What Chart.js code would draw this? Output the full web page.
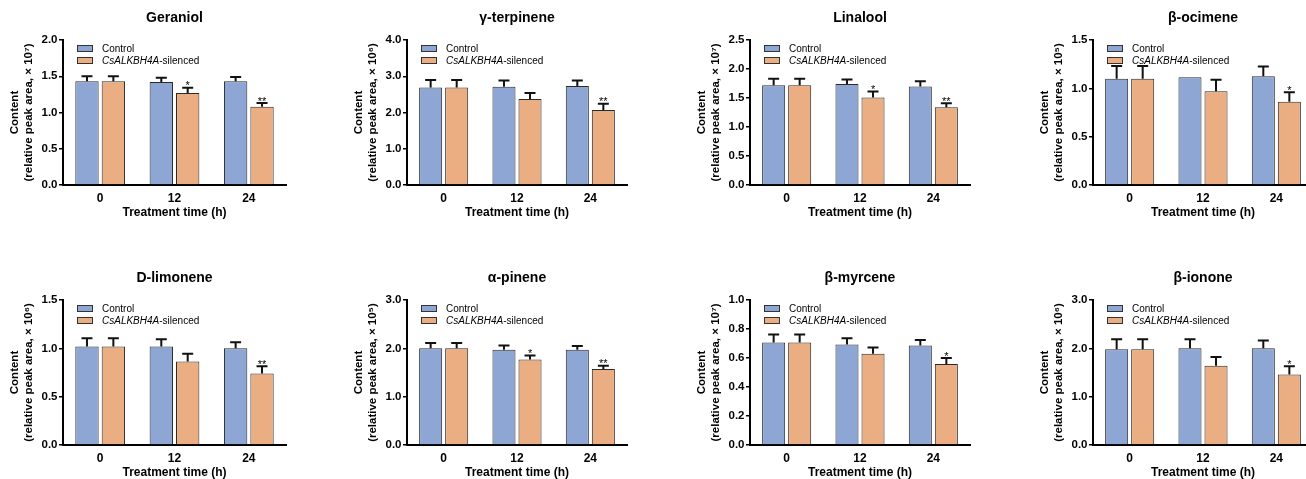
<!DOCTYPE html>
<html><head><meta charset="utf-8">
<script src="https://cdn.jsdelivr.net/npm/chart.js@4.4.1/dist/chart.umd.min.js"></script>
<style>
html,body{margin:0;padding:0;background:#fff;overflow:hidden;width:1306px;height:479px;}
#wrap{position:relative;width:1306px;height:479px;overflow:hidden;background:#fff;}
canvas{position:absolute;}
</style></head><body><div id="wrap"></div>
<script>
// ---- data ----
const categories = ['0', '12', '24'];
const compounds = ['Geraniol', 'γ-terpinene', 'Linalool', 'β-ocimene', 'D-limonene', 'α-pinene', 'β-myrcene', 'β-ionone'];
const exponents = ['⁷', '⁶', '⁷', '⁵', '⁶', '⁵', '⁷', '⁶'];
const yMax = [2.0, 4.0, 2.5, 1.5, 1.5, 3.0, 1.0, 3.0];
const yStep = [0.5, 1.0, 0.5, 0.5, 0.5, 1.0, 0.2, 1.0];
const seriesNames = ['Control', 'CsALKBH4A-silenced'];
const seriesItalicPrefix = ['', 'CsALKBH4A'];
const controlMean = [
  [1.43, 1.42, 1.43], [2.69, 2.71, 2.73], [1.72, 1.74, 1.70], [1.10, 1.115, 1.125],
  [1.02, 1.02, 1.00], [2.00, 1.97, 1.97], [0.707, 0.693, 0.686], [1.98, 2.00, 2.00]
];
const controlErr = [
  [0.07, 0.06, 0.06], [0.21, 0.17, 0.15], [0.11, 0.08, 0.09], [0.13, 0.0, 0.10],
  [0.085, 0.075, 0.064], [0.11, 0.09, 0.08], [0.055, 0.044, 0.039], [0.21, 0.19, 0.16]
];
const silencedMean = [
  [1.43, 1.27, 1.08], [2.69, 2.37, 2.07], [1.72, 1.51, 1.34], [1.10, 0.97, 0.86],
  [1.02, 0.865, 0.74], [2.00, 1.77, 1.57], [0.707, 0.629, 0.558], [1.98, 1.64, 1.46]
];
const silencedErr = [
  [0.07, 0.07, 0.05], [0.21, 0.17, 0.17], [0.11, 0.10, 0.07], [0.13, 0.12, 0.10],
  [0.085, 0.08, 0.075], [0.11, 0.08, 0.07], [0.055, 0.044, 0.042], [0.21, 0.18, 0.17]
];
const significance = [
  ['', '*', '**'], ['', '', '**'], ['', '*', '**'], ['', '', '*'],
  ['', '', '**'], ['', '*', '**'], ['', '', '*'], ['', '', '*']
];

// ---- style / layout ----
const FONT = "'Liberation Sans', Arial, Helvetica, sans-serif";
Chart.defaults.font.family = FONT;
Chart.defaults.color = '#000';
const COLORS = ['#8DA6D4', '#EBAE83'];
const panelLeft = [63, 407, 750, 1093];
const panelWidth = [223, 220, 220, 220];
const rowTop = [0, 260];
const AXIS_W = 63, XAXIS_H = 44, RIGHT_PAD = 4;

const errorBarPlugin = {
  id: 'errbars',
  afterDatasetsDraw(chart) {
    const ctx = chart.ctx, ys = chart.scales.y;
    chart.data.datasets.forEach((ds, di) => {
      const meta = chart.getDatasetMeta(di);
      meta.data.forEach((bar, i) => {
        const v = ds.data[i], e = ds.errors[i];
        const x = bar.x;
        const y0 = ys.getPixelForValue(v), y1 = ys.getPixelForValue(v + e);
        ctx.save();
        ctx.strokeStyle = '#111'; ctx.lineWidth = 2;
        if (e > 0) {
          ctx.beginPath();
          ctx.moveTo(x, y0); ctx.lineTo(x, y1);
          ctx.moveTo(x - 5.5, y1); ctx.lineTo(x + 5.5, y1);
          ctx.stroke();
        }
        const s = ds.marks[i];
        if (s) {
          ctx.fillStyle = '#000'; ctx.font = '11px ' + FONT;
          ctx.textAlign = 'center'; ctx.textBaseline = 'alphabetic';
          ctx.fillText(s, x, y1 + 1.5);
        }
        ctx.restore();
      });
    });
  }
};

const legendPlugin = {
  id: 'innerLegend',
  afterDraw(chart) {
    const ctx = chart.ctx, a = chart.chartArea;
    chart.data.datasets.forEach((ds, i) => {
      const bx = a.left + 14, by = a.top + 5 + i * 12;
      ctx.save();
      ctx.fillStyle = ds.backgroundColor; ctx.fillRect(bx, by, 16, 7);
      ctx.strokeStyle = '#333'; ctx.lineWidth = 1; ctx.strokeRect(bx + 0.5, by + 0.5, 15, 6);
      let tx = a.left + 39; const ty = by + 4;
      ctx.textBaseline = 'middle'; ctx.textAlign = 'left'; ctx.fillStyle = '#000';
      const name = ds.label, pre = ds.italicPrefix;
      const parts = pre ? [[pre, true], [name.slice(pre.length), false]] : [[name, false]];
      parts.forEach(([t, it]) => {
        ctx.font = (it ? 'italic ' : '') + '10px ' + FONT;
        ctx.fillText(t, tx, ty);
        tx += ctx.measureText(t).width;
      });
      ctx.restore();
    });
  }
};

const wrap = document.getElementById('wrap');
compounds.forEach((name, p) => {
  const col = p % 4, row = Math.floor(p / 4);
  const cv = document.createElement('canvas');
  const w = AXIS_W + panelWidth[col] + RIGHT_PAD, h = 185 + XAXIS_H;
  cv.width = w; cv.height = h;
  cv.style.left = (panelLeft[col] - AXIS_W) + 'px';
  cv.style.top = rowTop[row] + 'px';
  cv.style.width = w + 'px'; cv.style.height = h + 'px';
  wrap.appendChild(cv);
  new Chart(cv, {
    type: 'bar',
    data: {
      labels: categories,
      datasets: [
        { label: seriesNames[0], italicPrefix: seriesItalicPrefix[0], data: controlMean[p], errors: controlErr[p],
          marks: ['', '', ''], backgroundColor: COLORS[0], borderColor: '#2a2a2a', borderWidth: 1,
          categoryPercentage: 0.71, barPercentage: 0.885 },
        { label: seriesNames[1], italicPrefix: seriesItalicPrefix[1], data: silencedMean[p], errors: silencedErr[p],
          marks: significance[p], backgroundColor: COLORS[1], borderColor: '#2a2a2a', borderWidth: 1,
          categoryPercentage: 0.71, barPercentage: 0.885 }
      ]
    },
    options: {
      responsive: false, animation: false, devicePixelRatio: 1,
      layout: { padding: { left: 0, right: RIGHT_PAD, top: 0, bottom: 0 } },
      plugins: {
        legend: { display: false },
        tooltip: { enabled: false },
        title: { display: true, text: name, fullSize: false, color: '#000',
                 font: { size: 14, weight: 'bold', lineHeight: 1.2 }, padding: { top: 9.6, bottom: 13.6 } }
      },
      scales: {
        x: {
          grid: { display: false, drawTicks: false, tickLength: 0 },
          border: { display: true, color: '#000', width: 2 },
          ticks: { padding: 6, font: { size: 12, weight: 'bold' }, color: '#000' },
          title: { display: true, text: 'Treatment time (h)', color: '#000',
                   font: { size: 12, weight: 'bold', lineHeight: 1.2 }, padding: { top: 0, bottom: 9 } },
          afterFit(s) { s.height = XAXIS_H; }
        },
        y: {
          min: 0, max: yMax[p],
          grid: { display: true, drawOnChartArea: false, drawTicks: true, tickLength: 4, tickWidth: 1.5, tickColor: '#000', lineWidth: 1.5 },
          border: { display: true, color: '#000', width: 2 },
          ticks: { stepSize: yStep[p], padding: 1.5, font: { size: 11.5, weight: 'bold' }, color: '#000',
                   callback: v => Number(v).toFixed(1) },
          title: { display: true, text: ['Content', '(relative peak area, × 10' + exponents[p] + ')'], color: '#000',
                   font: { size: 11.5, weight: 'bold', lineHeight: '14px' }, padding: { top: 8, bottom: 0 } },
          afterFit(s) { s.width = AXIS_W; }
        }
      }
    },
    plugins: [errorBarPlugin, legendPlugin]
  });
});
</script>
</body></html>
